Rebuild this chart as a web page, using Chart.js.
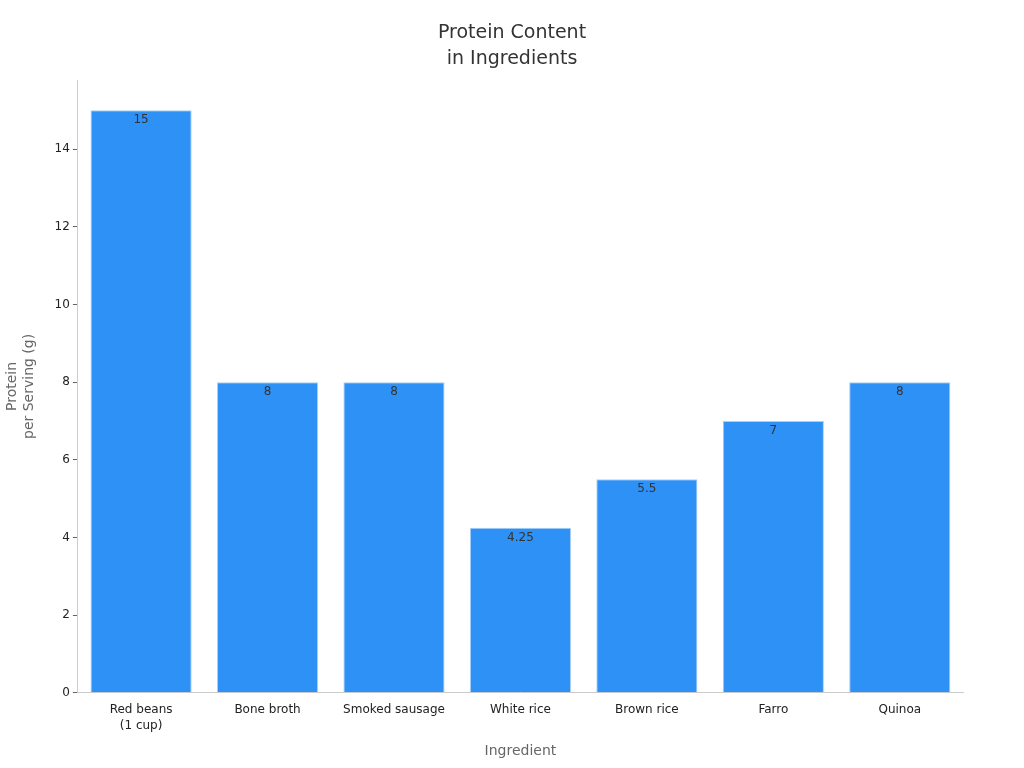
<!DOCTYPE html>
<html lang="en">
<head>
  <meta charset="utf-8" />
  <title>Protein Content in Ingredients</title>
  <script src="https://cdn.jsdelivr.net/npm/chart.js"></script>
  <style>
    * { box-sizing: border-box; margin: 0; padding: 0; }
    body { background: #fff; width: 1024px; height: 768px; overflow: hidden; }
    .wrap { width: 1024px; height: 768px; }
  </style>
</head>
<body>
  <div class="wrap"><canvas id="proteinChart" width="1024" height="768"></canvas></div>

  <script>
    const ingredients = [['Red beans', '(1 cup)'], 'Bone broth', 'Smoked sausage', 'White rice', 'Brown rice', 'Farro', 'Quinoa'];
    const proteinGrams = [15, 8, 8, 4.25, 5.5, 7, 8];
    const yTicks = [0, 2, 4, 6, 8, 10, 12, 14];
    const titleLines = ['Protein Content', 'in Ingredients'];

    const font = 'DejaVu Sans, sans-serif';

    // value labels just inside the top of each bar, title centred on the page
    const barLabels = {
      id: 'barLabels',
      afterDatasetsDraw(chart) {
        const ctx = chart.ctx;
        const meta = chart.getDatasetMeta(0);
        ctx.save();
        ctx.font = '12px ' + font;
        ctx.fillStyle = '#333';
        ctx.textAlign = 'center';
        ctx.textBaseline = 'top';
        meta.data.forEach((bar, i) => {
          ctx.fillText(String(proteinGrams[i]), bar.x, bar.y + 4);
        });

        ctx.font = '19px ' + font;
        ctx.textBaseline = 'middle';
        titleLines.forEach((t, i) => ctx.fillText(t, chart.width / 2, 33 + i * 26));
        ctx.restore();
      }
    };

    new Chart('proteinChart', {
      type: 'bar',
      data: {
        labels: ingredients,
        datasets: [{
          label: 'Protein',
          data: proteinGrams,
          backgroundColor: '#2e91f6',
          borderColor: '#a8cff8',
          borderWidth: 1,
          barPercentage: 0.8,
          categoryPercentage: 1
        }]
      },
      options: {
        responsive: false,
        animation: false,
        devicePixelRatio: 1,
        layout: { padding: { left: 0, right: 61, top: 80, bottom: 4 } },
        plugins: {
          legend: { display: false },
          tooltip: { enabled: false },
          title: { display: false }
        },
        scales: {
          x: {
            grid: { display: false, drawOnChartArea: false, tickLength: 5, tickColor: '#999' },
            border: { color: '#ccc' },
            ticks: { color: '#222', font: { family: font, size: 12, lineHeight: 1.35 }, padding: 4, maxRotation: 0 },
            title: {
              display: true,
              text: 'Ingredient',
              color: '#666',
              font: { family: font, size: 14 },
              padding: { top: 5 }
            }
          },
          y: {
            min: 0,
            max: 15.78,
            afterBuildTicks(axis) {
              axis.ticks = yTicks.map(v => ({ value: v }));
            },
            grid: { drawOnChartArea: false, tickLength: 5, tickColor: '#666' },
            border: { color: '#ccc' },
            ticks: { color: '#222', font: { family: font, size: 12 }, padding: 3 },
            title: {
              display: true,
              text: ['Protein', 'per Serving (g)'],
              color: '#666',
              font: { family: font, size: 14 },
              padding: { bottom: 14 }
            }
          }
        }
      },
      plugins: [barLabels]
    });
  </script>
</body>
</html>
